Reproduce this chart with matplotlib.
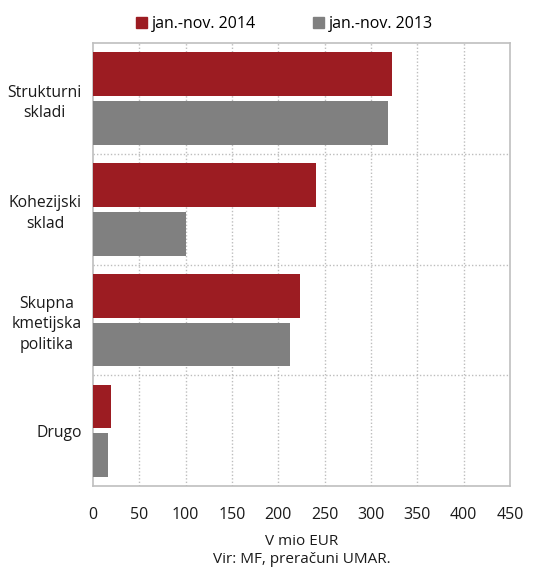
import numpy as np
import matplotlib
matplotlib.use('Agg')
import matplotlib.pyplot as plt
from matplotlib.patches import Patch

plt.rcParams['font.family'] = ['Open Sans', 'DejaVu Sans']

# Data (mio EUR)
categories = ['Strukturni\nskladi', 'Kohezijski\nsklad', 'Skupna\nkmetijska\npolitika', 'Drugo']
values_2014 = [323, 241, 224, 19]
values_2013 = [319, 100, 213, 16]
series_names = ['jan.-nov. 2014', 'jan.-nov. 2013']
x_ticks = [0, 50, 100, 150, 200, 250, 300, 350, 400, 450]

red = '#9c1c22'
grey = '#808080'
frame = '#bfbfbf'

fig = plt.figure(figsize=(5.5, 5.68), dpi=100)
ax = fig.add_axes([0.169, 0.144, 0.758, 0.780])

y = np.arange(len(categories))
h = 0.395
ax.barh(y - 0.22, values_2014, height=h, color=red, zorder=3)
ax.barh(y + 0.22, values_2013, height=h, color=grey, zorder=3)

ax.set_xlim(0, 450)
ax.set_ylim(len(categories) - 0.5, -0.5)
ax.set_xticks(x_ticks)
ax.set_xticklabels([str(t) for t in x_ticks], fontsize=11.5, color='#1a1a1a')
ax.set_yticks(y)
ax.set_yticklabels(categories, fontsize=11.3, color='#1a1a1a', linespacing=1.4,
                   multialignment='center')
ax.tick_params(length=0, pad=8)
ax.tick_params(axis='x', pad=15)

# dotted grid: vertical at ticks, horizontal between groups
for t in x_ticks[1:-1]:
    ax.axvline(t, color='#bdbdbd', lw=1.0, ls=(0, (1, 1.5)), zorder=1)
for s in np.arange(0.5, len(categories) - 0.5, 1):
    ax.axhline(s, color='#bdbdbd', lw=1.0, ls=(0, (1, 1.5)), zorder=1)

for side in ['top', 'right', 'bottom', 'left']:
    ax.spines[side].set_color(frame)
    ax.spines[side].set_linewidth(1.2)

ax.set_xlabel('V mio EUR\nVir: MF, preračuni UMAR.', fontsize=11, color='#1a1a1a',
              linespacing=1.3, labelpad=8)

handles = [Patch(color=red), Patch(color=grey)]
fig.legend(handles, series_names, loc='center', bbox_to_anchor=(0.517, 0.958), ncol=2,
           frameon=False, fontsize=11.5, handlelength=0.7, handleheight=0.7,
           handletextpad=0.3, columnspacing=3.6)

fig.savefig('out.png', dpi=100)
